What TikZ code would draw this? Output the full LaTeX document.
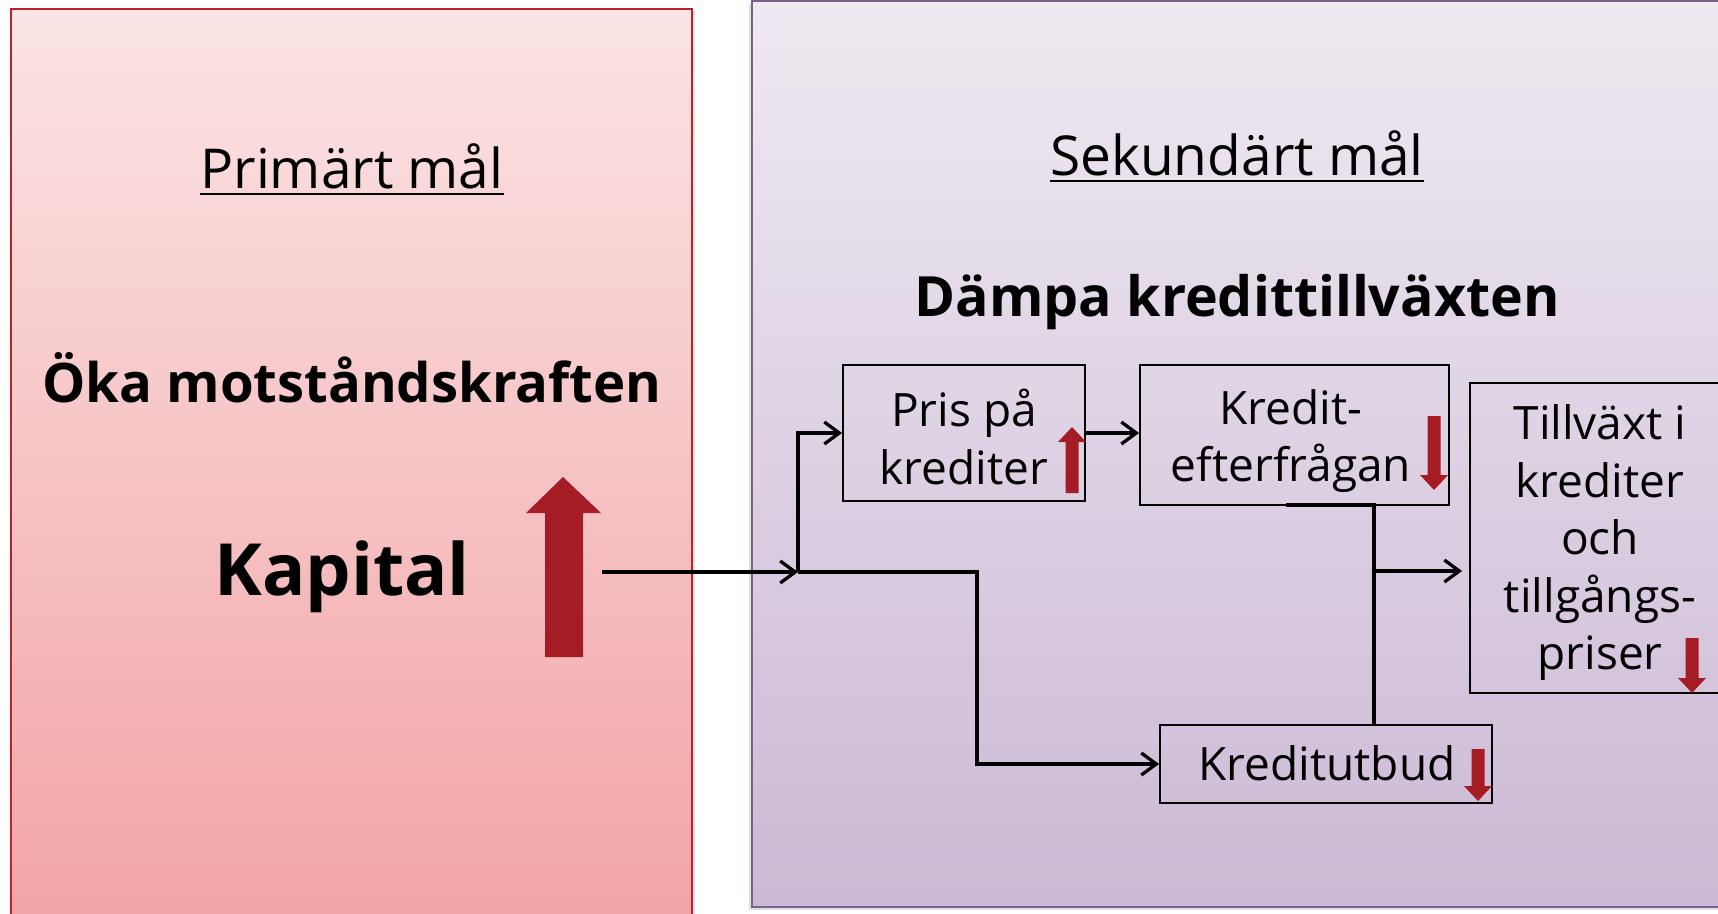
\documentclass[tikz,border=0pt]{standalone}
\usepackage{fontspec}
\setmainfont{Open Sans}
\usetikzlibrary{arrows.meta,shadows,calc}

\definecolor{pinktop}{HTML}{FBE4E5}
\definecolor{pinkbot}{HTML}{F2A3A5}
\definecolor{lavtop}{HTML}{EFE9F1}
\definecolor{lavbot}{HTML}{CBB9D5}
\definecolor{redline}{HTML}{B4262C}
\definecolor{purpleline}{HTML}{7E6190}
\definecolor{arrowred}{HTML}{A51C24}

\begin{document}
\begin{tikzpicture}[x=1pt,y=-1pt,
  title/.style={font=\fontsize{55}{66}\selectfont,inner sep=0pt,anchor=base},
  heading/.style={font=\bfseries\fontsize{55.5}{66}\selectfont,inner sep=0pt,anchor=base},
  stepbox/.style={draw=black,line width=1.8pt,rectangle,inner sep=0pt},
  boxtext/.style={font=\fontsize{46}{57.5}\selectfont,align=center,inner sep=0pt},
  conn/.style={draw=black,line width=3.3pt},
  tipped/.style={-{Straight Barb[length=15pt,width=22pt,line width=3.3pt]}},
  pics/flowdown/.style={code={
    \fill[arrowred] (-6.5,0) -- (6.5,0) -- (6.5,#1-15) -- (14,#1-15) -- (0,#1)
      -- (-14,#1-15) -- (-6.5,#1-15) -- cycle;}},
  pics/flowup/.style={code={
    \fill[arrowred] (-6.5,0) -- (6.5,0) -- (6.5,-#1+15) -- (14,-#1+15) -- (0,-#1)
      -- (-14,-#1+15) -- (-6.5,-#1+15) -- cycle;}}
]
\useasboundingbox (0,0) rectangle (1718,913);
\clip (0,0) rectangle (1718,913);
\fill[white] (0,0) rectangle (1718,913);

% two goal panels
\path[draw=redline,line width=2pt,top color=pinktop,bottom color=pinkbot,
  drop shadow={shadow xshift=3pt,shadow yshift=-2pt,opacity=0.25}]
  (11,9) rectangle (692,930);
\path[draw=purpleline,line width=2pt,top color=lavtop,bottom color=lavbot,
  drop shadow={shadow xshift=-3pt,shadow yshift=-3pt,opacity=0.25}]
  (752,1) rectangle (1730,907);

% primary goal
\node[title] (prim) at (352,188) {Primärt mål};
\draw[line width=2.2pt] ($(prim.base west)+(0,6)$) -- ($(prim.base east)+(0,6)$);
\node[heading,font=\bfseries\fontsize{54.5}{66}\selectfont] (oka) at (352,402) {Öka motståndskraften};
\node[heading,font=\bfseries\fontsize{72}{80}\selectfont] (kap) at (342,595) {Kapital};
\fill[arrowred] (545,657) -- (545,513) -- (526,513) -- (563,477) -- (601,513)
  -- (583,513) -- (583,657) -- cycle;
\coordinate (kapout) at (602,572);

% secondary goal
\node[title] (sek) at (1237,175) {Sekundärt mål};
\draw[line width=2.2pt] ($(sek.base west)+(0,6)$) -- ($(sek.base east)+(0,6)$);
\node[heading] (damp) at (1237,316) {Dämpa kredittillväxten};

% transmission boxes
\node[stepbox,minimum width=242pt,minimum height=136pt] (pris) at (964,433) {};
\node[boxtext] (prist) at (964,437) {Pris på\\krediter};
\pic at (1072,493) {flowup=66};

\node[stepbox,minimum width=309pt,minimum height=140pt] (kredit) at (1294.5,435) {};
\node[boxtext] (kreditt) at (1291,441) {Kredit-\\efterfrågan};
\pic at (1434,416) {flowdown=74};

\node[stepbox,minimum width=260pt,minimum height=310pt] (tillv) at (1600,538) {};
\node[boxtext] (tillvt) at (1600,543) {Tillväxt i\\krediter\\och\\tillgångs-\\priser};
\pic at (1692,638) {flowdown=55};

\node[stepbox,minimum width=332pt,minimum height=78pt] (utbud) at (1326,764) {};
\node[boxtext,anchor=base] (utbudt) at (1327,780) {Kreditutbud};
\pic at (1478,749) {flowdown=52};

% connectors
\coordinate (split) at (798,572);
\coordinate (bend) at (977,572);
\draw[conn,tipped] (kapout) -- (split);
\draw[conn,tipped] (split) |- (pris.west);
\draw[conn,tipped] (split) -- (bend) |- (utbud.west);
\draw[conn,tipped] (pris.east) -- (pris.east -| kredit.west);

\coordinate (kfoot) at (1286,505);
\coordinate (kjoin) at (1374,505);
\coordinate (branch) at (1374,571);
\draw[conn] (kfoot) -- (kjoin) -- (kjoin |- utbud.north);
\draw[conn,tipped,shorten >=7pt] (branch) -- (branch -| tillv.west);
\end{tikzpicture}
\end{document}
